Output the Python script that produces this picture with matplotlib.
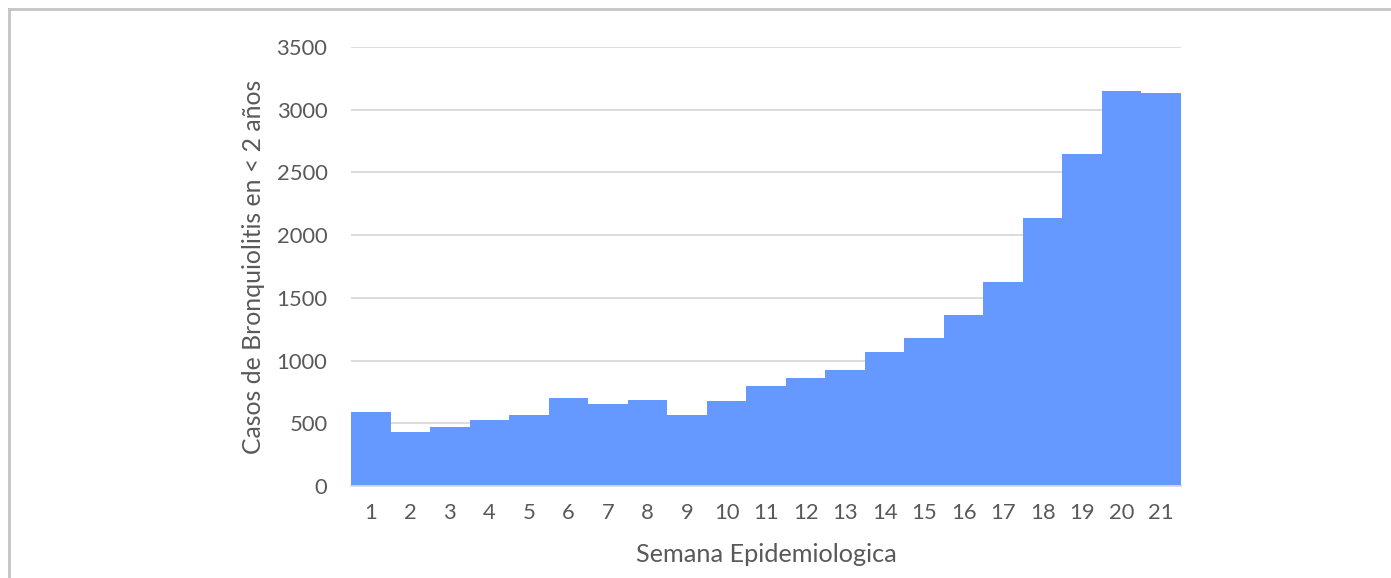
import numpy as np
import matplotlib.pyplot as plt
from matplotlib.lines import Line2D

plt.rcParams['font.family'] = ['Lato', 'DejaVu Sans']

# Semanas epidemiológicas y casos de bronquiolitis en < 2 años
semanas = [str(i) for i in range(1, 22)]
casos = [586, 430, 470, 530, 570, 699, 656, 688, 570, 680, 795,
         864, 928, 1069, 1176, 1362, 1625, 2138, 2648, 3148, 3135]

texto = '#595959'
barra = '#6699ff'

fig = plt.figure(figsize=(13.91, 5.78), dpi=100)
ax = fig.add_axes([351 / 1391, 1 - 486 / 578, 830 / 1391, 439 / 578])

x = np.arange(len(semanas))
ax.bar(x, casos, width=1.0, color=barra, zorder=2)

ax.set_xlim(-0.5, len(semanas) - 0.5)
ax.set_ylim(0, 3500)
ax.set_yticks(np.arange(0, 3501, 500))
ax.set_xticks(x)
ax.set_xticklabels(semanas)
ax.grid(axis='y', color='#d9d9d9', linewidth=1.3, zorder=0)
ax.tick_params(length=0, colors=texto, labelsize=15.8)
ax.tick_params(axis='y', pad=17)
ax.tick_params(axis='x', pad=12)
for s in ['top', 'right', 'left']:
    ax.spines[s].set_visible(False)
ax.spines['bottom'].set_color('#d9d9d9')
ax.spines['bottom'].set_linewidth(1.3)

ax.set_xlabel('Semana Epidemiologica', color=texto, fontsize=18.2, labelpad=15)
ax.set_ylabel('Casos de Bronquiolitis en < 2 años', color=texto, fontsize=17.8, labelpad=8)

# marco del gráfico
fig.add_artist(Line2D([9 / 1391, 1.0], [1 - 9 / 578, 1 - 9 / 578], color='#c4c4c4', linewidth=2, transform=fig.transFigure))
fig.add_artist(Line2D([9 / 1391, 9 / 1391], [0.0, 1 - 9 / 578], color='#c4c4c4', linewidth=2, transform=fig.transFigure))

fig.savefig('out.png', dpi=100)
